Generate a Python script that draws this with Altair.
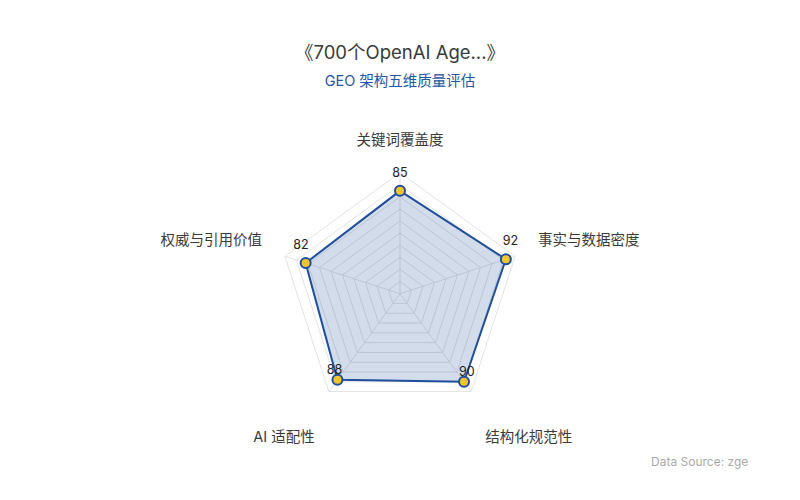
import altair as alt
import pandas as pd

# ---- data ----
dims = ["关键词覆盖度", "事实与数据密度", "结构化规范性", "AI 适配性", "权威与引用价值"]
scores = [85, 92, 90, 88, 82]
grid_levels = [10, 20, 30, 40, 50, 60, 70, 80, 90, 100]
max_score = 100

title_text = "《700个OpenAI Age...》"
subtitle_text = "GEO 架构五维质量评估"
source_text = "Data Source: zge"

FONT = "Inter, 'Noto Sans CJK SC', sans-serif"
BLUE = "#1f4e9c"
YELLOW = "#f4c430"

n = len(dims)
df = pd.DataFrame({"dim": dims, "score": scores, "idx": list(range(n))})
grid_df = pd.DataFrame(
    [{"level": lv, "idx": i} for lv in grid_levels for i in range(n)]
)
spoke_df = pd.DataFrame({"level": [max_score] * n, "idx": list(range(n))})

ang = f"datum.idx * 2 * PI / {n}"

xscale = alt.Scale(domain=[-324, 324], nice=False, zero=False)
yscale = alt.Scale(domain=[-163.9, 236.1], nice=False, zero=False)


def X(f):
    return alt.X(f"{f}:Q", scale=xscale, axis=None)


def Y(f):
    return alt.Y(f"{f}:Q", scale=yscale, axis=None)


# grid rings
rings = (
    alt.Chart(grid_df)
    .transform_calculate(
        gx=f"datum.level * sin({ang})", gy=f"datum.level * cos({ang})"
    )
    .mark_line(interpolate="linear-closed", stroke="#e3e3e3", strokeWidth=1)
    .encode(x=X("gx"), y=Y("gy"), detail="level:N", order=alt.Order("idx:Q"))
)

# spokes
spokes = (
    alt.Chart(spoke_df)
    .transform_calculate(
        sx=f"datum.level * sin({ang})",
        sy=f"datum.level * cos({ang})",
        ox="0",
        oy="0",
    )
    .mark_rule(stroke="#e3e3e3", strokeWidth=1)
    .encode(x=X("ox"), y=Y("oy"), x2="sx:Q", y2="sy:Q")
)

base = alt.Chart(df).transform_calculate(
    vx=f"datum.score * sin({ang})",
    vy=f"datum.score * cos({ang})",
    a=ang,
)

poly = base.mark_line(
    interpolate="linear-closed",
    fill=BLUE,
    fillOpacity=0.2,
    stroke=BLUE,
    strokeWidth=2,
).encode(x=X("vx"), y=Y("vy"), order=alt.Order("idx:Q"))

pts = base.mark_point(
    filled=True, fill=YELLOW, stroke=BLUE, strokeWidth=2, size=100, opacity=1,
    fillOpacity=1, shape="circle"
).encode(x=X("vx"), y=Y("vy"))

vlabels = (
    base.transform_calculate(
        lx="datum.vx + 4 * sin(datum.a)",
        ly="datum.vy + (cos(datum.a) < -0.5 ? 8 : 15)",
    )
    .mark_text(font=FONT, fontSize=12.5, color="#222222", baseline="middle")
    .encode(x=X("lx"), y=Y("ly"), text="score:Q")
)

lab_base = alt.Chart(df).transform_calculate(
    a=ang,
    nx="120 * sin(datum.a)",
    ny="120 * cos(datum.a) + (cos(datum.a) < -0.5 ? -22 : 6.5)",
    side="sin(datum.a) > 0.1 ? 'L' : (sin(datum.a) < -0.1 ? 'R' : 'C')",
)


def names(side, align):
    return (
        lab_base.transform_filter(f"datum.side == '{side}'")
        .mark_text(font=FONT, fontSize=14.5, color="#3a3a3a", align=align,
                   baseline="middle")
        .encode(x=X("nx"), y=Y("ny"), text="dim:N")
    )


name_layers = names("L", "left") + names("R", "right") + names("C", "center")

one = pd.DataFrame({"t": [0]})
title = alt.Chart(one).mark_text(
    text=title_text, font=FONT, fontSize=18.5, color="#3a3a3a",
    align="center", baseline="middle"
).encode(x=alt.value(392), y=alt.value(45))
subtitle = alt.Chart(one).mark_text(
    text=subtitle_text, font=FONT, fontSize=14.5, color="#2456a4",
    align="center", baseline="middle"
).encode(x=alt.value(392), y=alt.value(74))
source = alt.Chart(one).mark_text(
    text=source_text, font=FONT, fontSize=12, color="#aaaaaa",
    align="left", baseline="middle"
).encode(x=alt.value(643), y=alt.value(454))

chart = (
    alt.layer(rings, spokes, poly, pts, vlabels, name_layers, title, subtitle, source)
    .properties(width=784, height=484, padding=0)
    .configure_view(strokeWidth=0)
)

chart.save("out.html", embed_options={"renderer": "svg", "actions": False})
